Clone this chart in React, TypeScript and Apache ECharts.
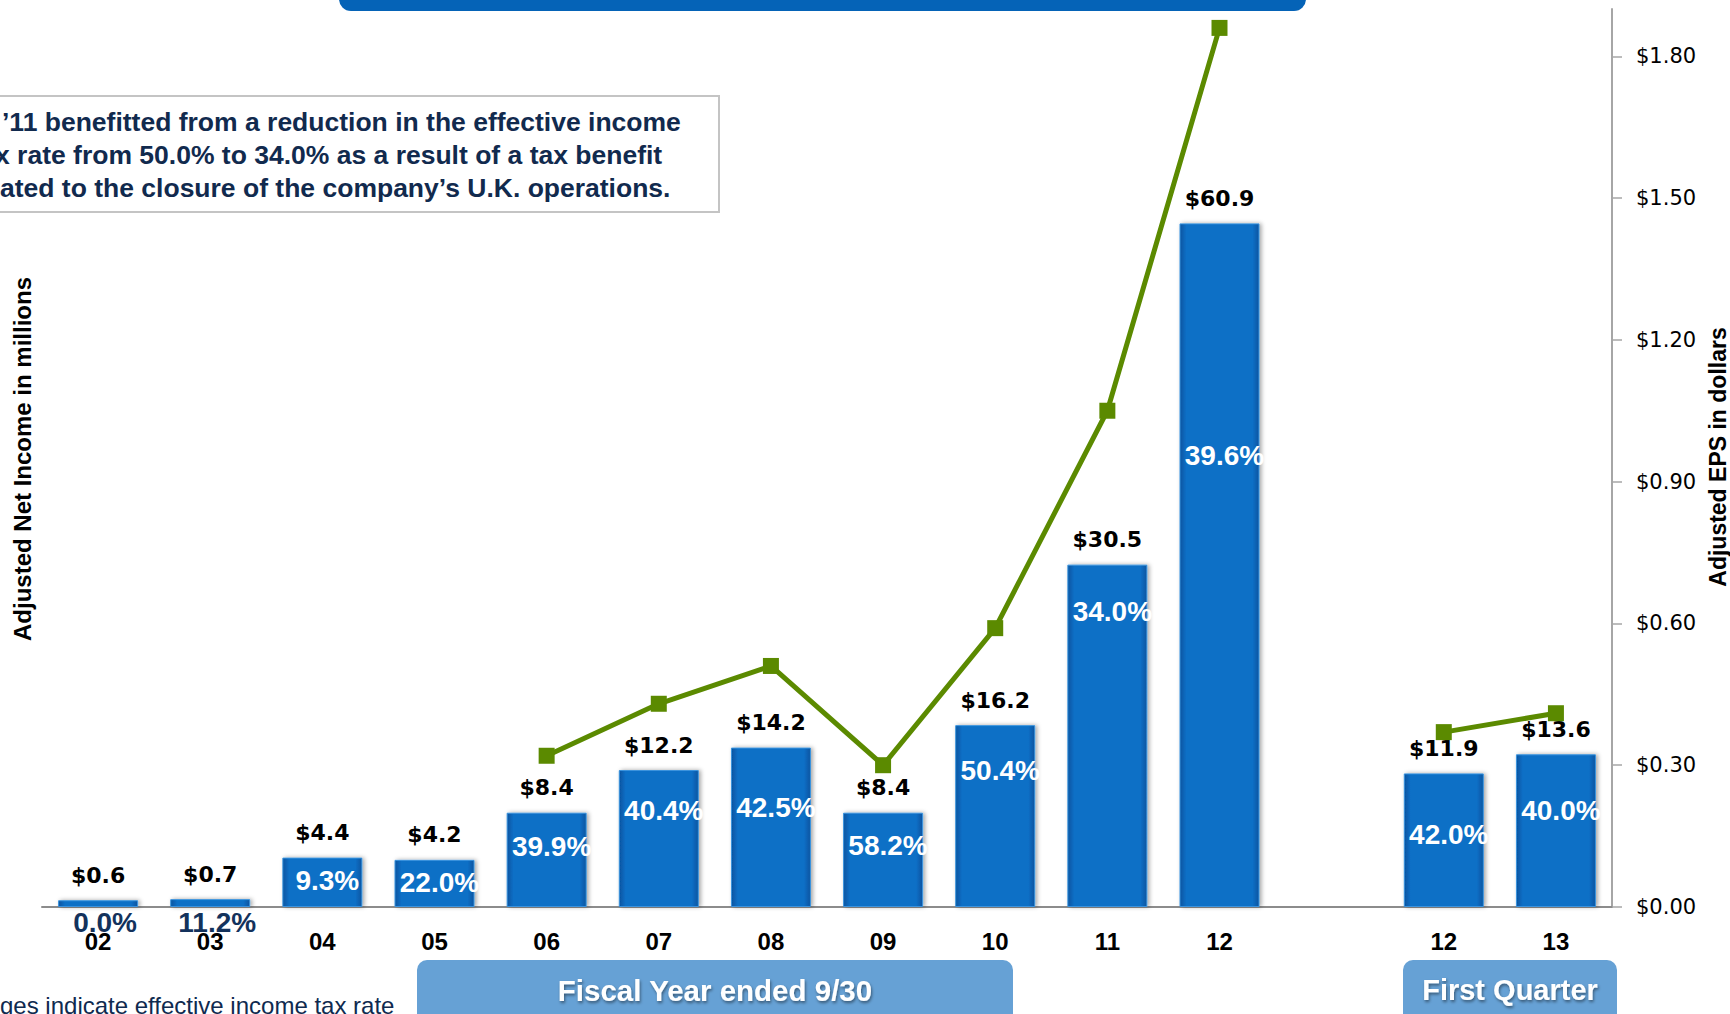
import React, { useEffect, useRef } from 'react';
import * as echarts from 'echarts';

// ---- data ----
const categories = ['02', '03', '04', '05', '06', '07', '08', '09', '10', '11', '12', '', '12', '13'];
const netIncome = [0.6, 0.7, 4.4, 4.2, 8.4, 12.2, 14.2, 8.4, 16.2, 30.5, 60.9, null, 11.9, 13.6];
const taxRate = [0.0, 11.2, 9.3, 22.0, 39.9, 40.4, 42.5, 58.2, 50.4, 34.0, 39.6, null, 42.0, 40.0];
const eps = [null, null, null, null, 0.32, 0.43, 0.51, 0.30, 0.59, 1.05, 1.86, null, 0.37, 0.41];
const epsTicks = [0, 0.3, 0.6, 0.9, 1.2, 1.5, 1.8];

// ---- label layout (pixel distances from bar top / axis) ----
const taxLabelDistance = [1, 1, 9, 9, 20, 26, 46, 19, 31, 33, 218, 0, 47, 42];
const taxLabelBelow = [true, true, false, false, false, false, false, false, false, false, false, false, false, false];

const SANS = '"Liberation Sans", Arial, sans-serif';
const VERD = '"DejaVu Sans", Verdana, sans-serif';

export default function App() {
  const ref = useRef<HTMLDivElement>(null);

  useEffect(() => {
    document.body.style.margin = '0';
    const chart = echarts.init(ref.current!, null, { renderer: 'svg' });

    const barItemStyle = {
      color: new echarts.graphic.LinearGradient(0, 0, 1, 0, [
        { offset: 0, color: '#0654a0' },
        { offset: 0.08, color: '#0b6fc6' },
        { offset: 0.92, color: '#0b6fc6' },
        { offset: 1, color: '#0654a0' },
      ]),
      borderColor: '#3a93de',
      borderWidth: 1,
      shadowBlur: 4,
      shadowColor: 'rgba(0,0,0,0.35)',
      shadowOffsetX: 2,
      shadowOffsetY: 0,
    };

    const taxData = netIncome.map((v, i) => {
      if (v == null || taxRate[i] == null) return null;
      const below = taxLabelBelow[i];
      return {
        value: v,
        label: {
          show: true,
          position: below ? 'bottom' : 'insideTop',
          distance: taxLabelDistance[i],
          offset: [below ? 7 : 5, 0],
          color: below ? '#13325c' : '#ffffff',
          fontFamily: SANS,
          fontWeight: 'bold',
          fontSize: 28,
          formatter: () => taxRate[i]!.toFixed(1) + '%',
        },
      };
    });

    const titleStyle = (text: string, font: string, fill: string) => ({
      text,
      font,
      fill,
      align: 'center',
      verticalAlign: 'middle',
      textAlign: 'center',
      textVerticalAlign: 'middle',
    });

    const leftText = (text: string, font: string, fill: string) => ({
      text,
      font,
      fill,
      align: 'left',
      verticalAlign: 'middle',
      textAlign: 'left',
      textVerticalAlign: 'middle',
    });

    chart.setOption({
      animation: false,
      backgroundColor: '#ffffff',
      grid: { left: 42, right: 118, top: 9, bottom: 107, containLabel: false },
      xAxis: {
        type: 'category',
        data: categories,
        axisLine: { show: true, lineStyle: { color: '#8c8c8c', width: 2 } },
        axisTick: { show: false },
        axisLabel: {
          color: '#000',
          fontFamily: SANS,
          fontWeight: 'bold',
          fontSize: 24,
          margin: 22,
        },
      },
      yAxis: [
        {
          type: 'value',
          min: 0,
          max: 80,
          show: false,
          splitLine: { show: false },
        },
        {
          type: 'value',
          position: 'right',
          min: 0,
          max: 1.9,
          interval: 0.3,
          splitLine: { show: false },
          axisLine: { show: true, lineStyle: { color: '#a6a6a6', width: 2 } },
          axisTick: {
            show: true,
            inside: false,
            length: 10,
            lineStyle: { color: '#a6a6a6', width: 1.5 },
            customValues: epsTicks,
          },
          axisLabel: {
            color: '#000',
            fontFamily: VERD,
            fontSize: 21,
            margin: 24,
            customValues: epsTicks,
            formatter: (v: number) => (v > 1.85 ? '' : '$' + v.toFixed(2)),
          },
        },
      ],
      series: [
        {
          name: 'Adjusted Net Income',
          type: 'bar',
          yAxisIndex: 0,
          data: netIncome,
          barWidth: 80,
          barGap: '-100%',
          itemStyle: barItemStyle,
          label: {
            show: true,
            position: 'top',
            distance: 14,
            color: '#000',
            fontFamily: VERD,
            fontWeight: 'bold',
            fontSize: 22,
            formatter: (p: any) => '$' + Number(p.value).toFixed(1),
          },
          z: 2,
        },
        {
          name: 'Tax rate',
          type: 'bar',
          yAxisIndex: 0,
          data: taxData,
          barWidth: 80,
          barGap: '-100%',
          itemStyle: { color: 'rgba(0,0,0,0)' },
          z: 3,
        },
        {
          name: 'Adjusted EPS',
          type: 'line',
          yAxisIndex: 1,
          data: eps,
          connectNulls: false,
          symbol: 'rect',
          symbolSize: 16,
          lineStyle: { color: '#5b8a00', width: 5 },
          itemStyle: { color: '#5b8a00' },
          z: 4,
        },
      ],
      graphic: [
        // top banner
        {
          type: 'rect',
          shape: { x: 339, y: -20, width: 967, height: 31, r: [0, 0, 12, 12] },
          style: { fill: '#0563b7' },
        },
        // annotation box
        {
          type: 'rect',
          shape: { x: -10, y: 96, width: 729, height: 116 },
          style: { fill: '#ffffff', stroke: '#c4c4c4', lineWidth: 2 },
          z: 10,
        },
        {
          type: 'text',
          x: 2,
          y: 122,
          z: 11,
          style: leftText('\u201911 benefitted from a reduction in the effective income', 'bold 26.5px ' + SANS, '#112a4e'),
        },
        {
          type: 'text',
          x: -5,
          y: 155,
          z: 11,
          style: leftText('x rate from 50.0% to 34.0% as a result of a tax benefit', 'bold 26.5px ' + SANS, '#112a4e'),
        },
        {
          type: 'text',
          x: 0,
          y: 188,
          z: 11,
          style: leftText('ated to the closure of the company\u2019s U.K. operations.', 'bold 26.5px ' + SANS, '#112a4e'),
        },
        // axis titles
        {
          type: 'text',
          x: 22,
          y: 459,
          rotation: Math.PI / 2,
          style: titleStyle('Adjusted Net Income in millions', 'bold 24px ' + SANS, '#000'),
        },
        {
          type: 'text',
          x: 1718,
          y: 457,
          rotation: Math.PI / 2,
          style: titleStyle('Adjusted EPS in dollars', 'bold 23px "Liberation Sans Narrow", ' + SANS, '#000'),
        },
        // bottom group boxes
        {
          type: 'rect',
          shape: { x: 417, y: 960, width: 596, height: 70, r: [10, 10, 0, 0] },
          style: { fill: '#66a1d5' },
        },
        {
          type: 'text',
          x: 715,
          y: 990,
          style: {
            ...titleStyle('Fiscal Year ended 9/30', 'bold 29.5px ' + SANS, '#ffffff'),
            textShadowColor: 'rgba(0,0,0,0.45)',
            textShadowBlur: 3,
            textShadowOffsetX: 1,
            textShadowOffsetY: 2,
          },
        },
        {
          type: 'rect',
          shape: { x: 1403, y: 960, width: 214, height: 70, r: [10, 10, 0, 0] },
          style: { fill: '#66a1d5' },
        },
        {
          type: 'text',
          x: 1510,
          y: 990,
          style: {
            ...titleStyle('First Quarter', 'bold 29px ' + SANS, '#ffffff'),
            textShadowColor: 'rgba(0,0,0,0.45)',
            textShadowBlur: 3,
            textShadowOffsetX: 1,
            textShadowOffsetY: 2,
          },
        },
        // bottom note
        {
          type: 'text',
          x: 0,
          y: 1005,
          style: leftText('ges indicate effective income tax rate', '24px ' + SANS, '#0f2a4f'),
        },
      ],
    });

    return () => chart.dispose();
  }, []);

  return <div ref={ref} style={{ width: 1730, height: 1014 }} />;
}
